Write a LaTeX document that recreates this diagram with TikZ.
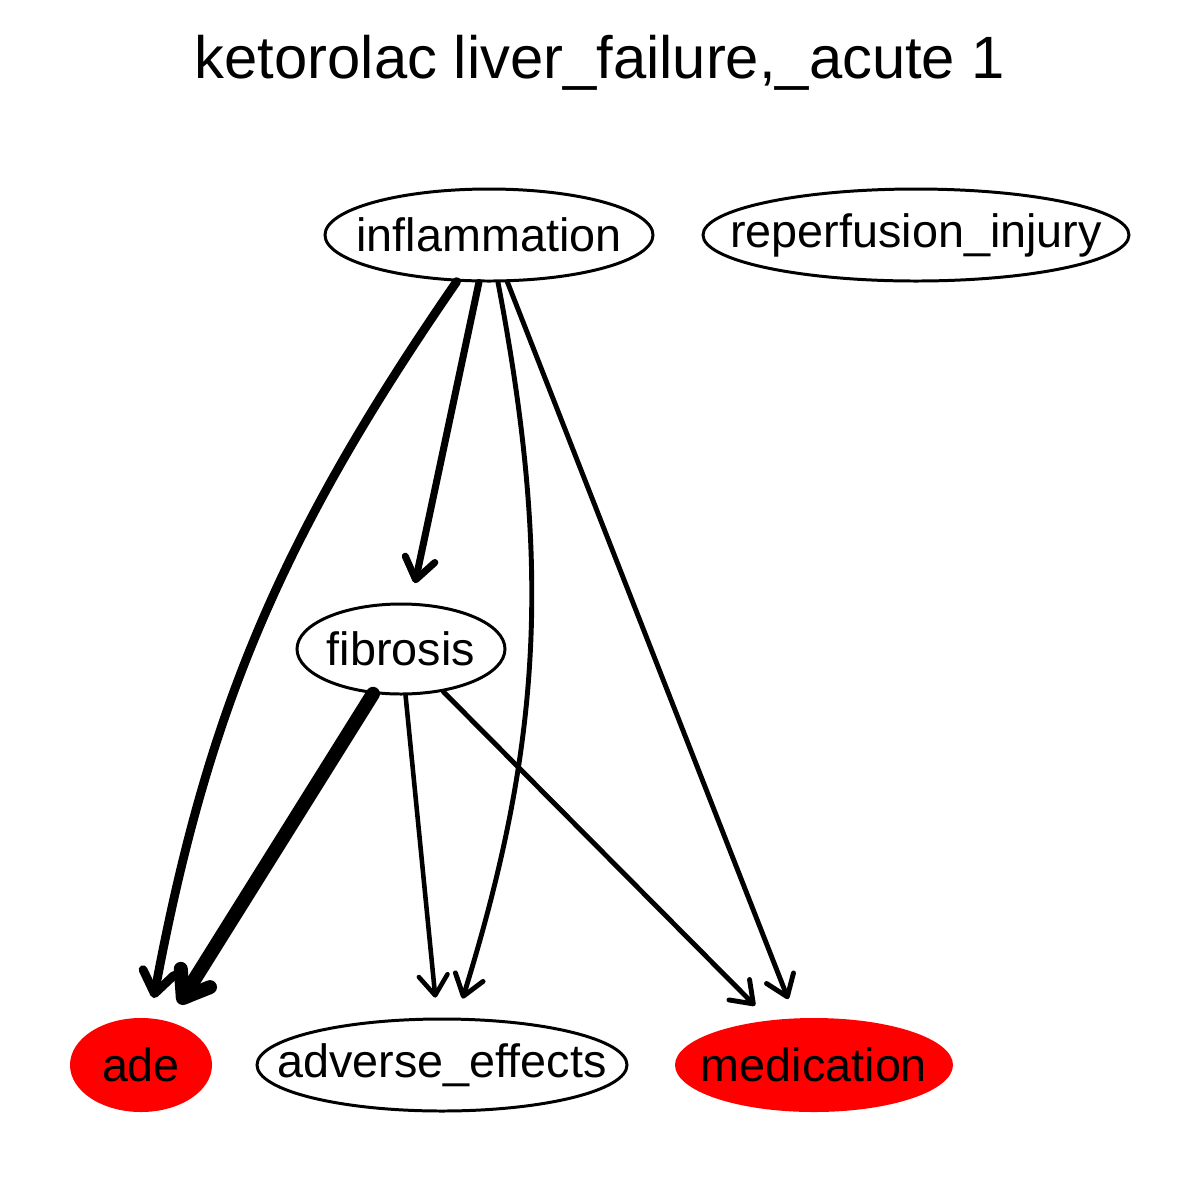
\documentclass[tikz,border=0pt]{standalone}
\usepackage{fontspec}
\setmainfont{Liberation Sans}
\usetikzlibrary{positioning,arrows.meta,shapes.geometric}

% label with no width, so that the ellipse keeps its given size
\newcommand{\lbl}[1]{\makebox[0pt]{#1}}

\begin{document}
\begin{tikzpicture}[
  term/.style={ellipse, draw, line width=0.85pt, inner sep=0pt, font=\fontsize{13.3}{15}\selectfont},
  hit/.style={ellipse, fill=red, draw=none, inner sep=0pt, font=\fontsize{13.3}{15}\selectfont},
  link/.style={-{Straight Barb[length=1.8mm 0.4,width=2.6mm 0.6,round]}, line cap=round, shorten >=2mm},
]
  \useasboundingbox (0,0) rectangle (12,-12);

  \node (title) at (6,-0.63) {\fontsize{17}{20}\selectfont ketorolac liver\_failure,\_acute 1};

  \node[term, minimum width=32.8mm, minimum height=9.2mm] (infl) at (4.89,-2.35) {\lbl{inflammation}};
  \node[term, minimum width=42.6mm, minimum height=9.2mm] (rep) at (9.16,-2.35) {\lbl{reperfusion\_injury}};
  \node[term, minimum width=20.8mm, minimum height=9mm] (fib) at (4.01,-6.49) {\lbl{fibrosis}};
  \node[hit, minimum width=14.2mm, minimum height=9.4mm] (ade) at (1.41,-10.65) {\lbl{ade}};
  \node[term, minimum width=37mm, minimum height=9.2mm] (adv) at (4.42,-10.65) {\lbl{adverse\_effects}};
  \node[hit, minimum width=27.8mm, minimum height=9.4mm] (med) at (8.14,-10.65) {\lbl{medication}};

  % edges out of inflammation
  \draw[link, line width=2.5pt] (infl) to[bend right=12] (ade);
  \draw[link, line width=2pt] (infl) -- (fib);
  \draw[link, line width=1.4pt] (infl) to[bend left=14] (adv);
  \draw[link, line width=1.4pt] (infl) -- (med);

  % edges out of fibrosis
  \draw[link, line width=4pt] (fib) -- (ade);
  \draw[link, line width=1.3pt] (fib) -- (adv);
  \draw[link, line width=1.4pt] (fib) -- (med);
\end{tikzpicture}
\end{document}
